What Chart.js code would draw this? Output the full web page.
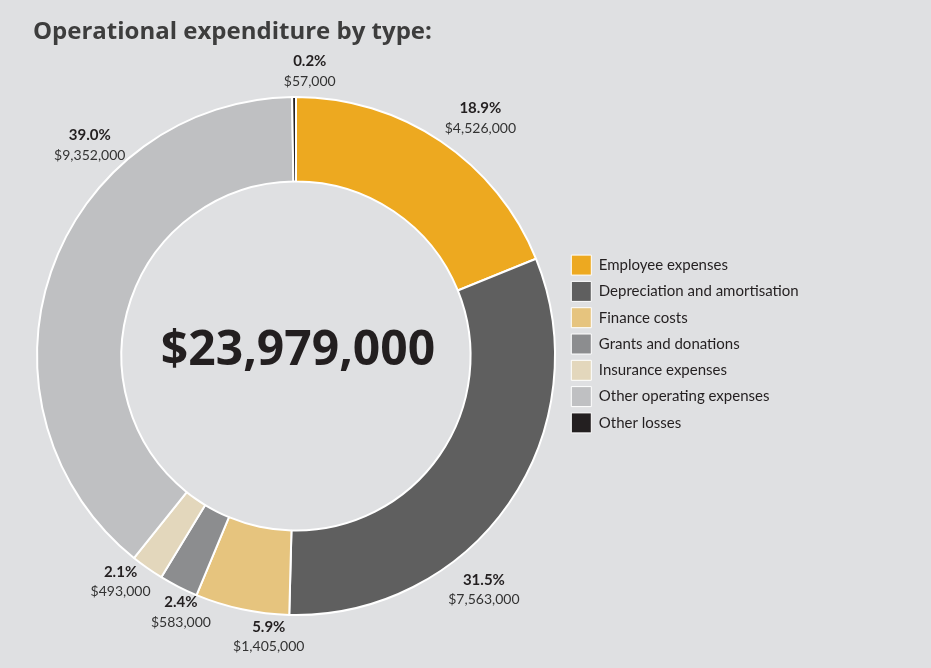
<!DOCTYPE html>
<html><head><meta charset="utf-8">
<script src="https://cdn.jsdelivr.net/npm/chart.js@4.4.1/dist/chart.umd.min.js"></script>
<style>html,body{margin:0;padding:0;background:#dfe0e2;} #wrap{width:931px;height:668px;}</style>
</head><body><div id="wrap"><canvas id="c" width="931" height="668"></canvas></div>
<script>
const categories = ['Employee expenses','Depreciation and amortisation','Finance costs','Grants and donations','Insurance expenses','Other operating expenses','Other losses'];
const amounts = [4526000, 7563000, 1405000, 583000, 493000, 9352000, 57000];
const sliceColors = ['#eda920','#5f5f5f','#e6c47e','#8c8d8f','#e3d7bc','#bfc0c2','#231f20'];
const titleText = 'Operational expenditure by type:';

const total = amounts.reduce((a, b) => a + b, 0);
const fmt = v => '$' + v.toLocaleString('en-US');
const pct = v => (v / total * 100).toFixed(1) + '%';

const sliceLabels = {
  id: 'sliceLabels',
  afterDatasetsDraw(chart, args, opts) {
    const ctx = chart.ctx;
    const meta = chart.getDatasetMeta(0);
    const data = chart.data.datasets[0].data;
    ctx.save();
    ctx.textAlign = 'center';
    ctx.textBaseline = 'middle';
    meta.data.forEach((arc, i) => {
      const p = arc.getProps(['x', 'y', 'startAngle', 'endAngle', 'outerRadius'], true);
      const a = (p.startAngle + p.endAngle) / 2 + opts.shift[i] * Math.PI / 180;
      const r = p.outerRadius + opts.gap[i];
      const x = p.x + Math.cos(a) * r, y = p.y + Math.sin(a) * r;
      ctx.fillStyle = '#231f20';
      ctx.font = 'bold 15px Lato';
      ctx.fillText(pct(data[i]), x, y - 10);
      ctx.fillStyle = '#333333';
      ctx.font = '14px Lato';
      ctx.fillText(fmt(data[i]), x, y + 10);
    });
    ctx.restore();
  }
};

const centerTotal = {
  id: 'centerTotal',
  afterDatasetsDraw(chart, args, opts) {
    const arc = chart.getDatasetMeta(0).data[0];
    const p = arc.getProps(['x', 'y'], true);
    const ctx = chart.ctx;
    ctx.save();
    ctx.font = 'bold 48px "Open Sans"';
    ctx.textAlign = 'center';
    ctx.textBaseline = 'alphabetic';
    ctx.fillStyle = '#231f20';
    ctx.fillText(fmt(total), p.x + opts.dx, p.y + opts.dy);
    ctx.restore();
  }
};

const legendNudge = {
  id: 'legendNudge',
  afterLayout(chart, args, opts) {
    const lg = chart.legend;
    lg.left += opts.dx;
    lg.right = chart.width;
    lg.width = lg.right - lg.left;
  }
};

new Chart(document.getElementById('c'), {
  type: 'doughnut',
  data: {
    labels: categories,
    datasets: [{
      data: amounts,
      backgroundColor: sliceColors,
      borderColor: '#ffffff',
      borderWidth: 2
    }]
  },
  options: {
    responsive: false,
    animation: false,
    devicePixelRatio: 1,
    events: [],
    radius: 259,
    cutout: '67.4%',
    layout: { padding: { left: 33, right: 252, top: 20, bottom: 0 } },
    plugins: {
      title: {
        display: true, text: titleText, align: 'start', color: '#3d3d3d', fullSize: true,
        font: { family: '"Open Sans"', size: 24, weight: 'bold', lineHeight: 1 },
        padding: { top: 0, bottom: 0 }
      },
      legend: {
        position: 'right', align: 'center', maxWidth: 120,
        labels: {
          boxWidth: 20, boxHeight: 20, padding: 6.3, color: '#231f20',
          font: { family: 'Lato', size: 15 },
          generateLabels(chart) {
            return Chart.overrides.doughnut.plugins.legend.labels.generateLabels(chart)
              .map(it => Object.assign({}, it, { lineWidth: 1 }));
          }
        }
      },
      tooltip: { enabled: false },
      sliceLabels: { shift: [3.8, 16.5, -6.5, -2.8, 2.8, 26.7, 3.2], gap: [42, 41, 23, 22, 27, 36, 26] },
      centerTotal: { dx: 2, dy: 9 },
      legendNudge: { dx: 6 }
    }
  },
  plugins: [sliceLabels, centerTotal, legendNudge]
});
</script>
</body></html>
